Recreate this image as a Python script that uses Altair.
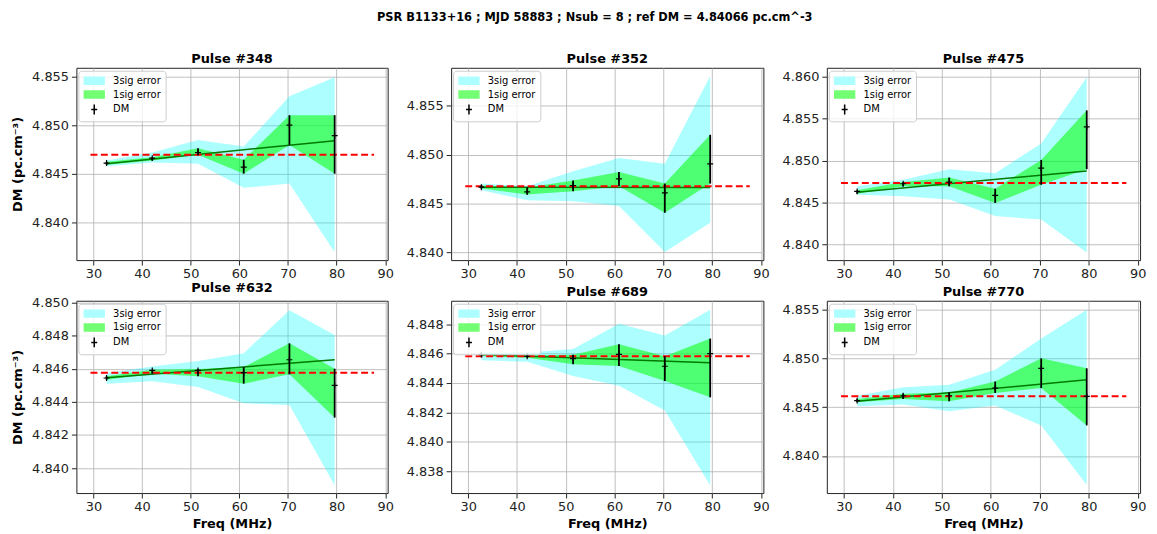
import altair as alt
import pandas as pd

# ---------------- data ----------------
FREQ = [32.7, 42.1, 51.5, 60.9, 70.3, 79.6]
PULSES = ["348", "352", "475", "632", "689", "770"]

DM = [
    [4.84609, 4.84660, 4.84718, 4.84568, 4.85000, 4.84891],
    [4.84667, 4.84619, 4.84684, 4.84752, 4.84609, 4.84905],
    [4.84632, 4.84723, 4.84743, 4.84585, 4.84909, 4.85403],
    [4.84544, 4.84590, 4.84590, 4.84576, 4.84654, 4.84500],
    [4.84593, 4.84582, 4.84566, 4.84595, 4.84514, 4.84600],
    [4.84567, 4.84617, 4.84617, 4.84695, 4.84898, 4.84611],
]
SIG1_HI = [
    [4.84622, 4.84670, 4.84762, 4.84643, 4.85102, 4.85102],
    [4.84684, 4.84665, 4.84735, 4.84823, 4.84704, 4.85204],
    [4.84644, 4.84743, 4.84798, 4.84664, 4.85008, 4.85601],
    [4.84554, 4.84594, 4.84598, 4.84610, 4.84753, 4.84600],
    [4.84600, 4.84589, 4.84593, 4.84663, 4.84582, 4.84702],
    [4.84584, 4.84638, 4.84651, 4.84763, 4.85000, 4.84898],
]
SIG1_LO = [
    [4.84592, 4.84636, 4.84694, 4.84500, 4.84796, 4.84500],
    [4.84653, 4.84592, 4.84626, 4.84677, 4.84405, 4.84704],
    [4.84605, 4.84692, 4.84692, 4.84494, 4.84711, 4.84897],
    [4.84534, 4.84570, 4.84554, 4.84510, 4.84566, 4.84305],
    [4.84584, 4.84571, 4.84528, 4.84516, 4.84413, 4.84302],
    [4.84550, 4.84584, 4.84560, 4.84645, 4.84695, 4.84313],
]
SIG3_HI = [
    [4.84636, 4.84718, 4.84847, 4.84779, 4.85296, 4.85493],
    [4.84704, 4.84677, 4.84830, 4.84966, 4.84908, 4.85806],
    [4.84692, 4.84771, 4.84897, 4.84850, 4.85206, 4.85996],
    [4.84574, 4.84614, 4.84646, 4.84694, 4.84953, 4.84803],
    [4.84607, 4.84607, 4.84632, 4.84803, 4.84724, 4.84898],
    [4.84617, 4.84705, 4.84729, 4.84882, 4.85203, 4.85498],
]
SIG3_LO = [
    [4.84575, 4.84616, 4.84602, 4.84354, 4.84398, 4.83690],
    [4.84636, 4.84534, 4.84524, 4.84473, 4.84003, 4.84303],
    [4.84593, 4.84573, 4.84534, 4.84336, 4.84296, 4.83901],
    [4.84510, 4.84524, 4.84490, 4.84391, 4.84381, 4.83897],
    [4.84555, 4.84544, 4.84447, 4.84381, 4.84212, 4.83702],
    [4.84509, 4.84526, 4.84458, 4.84516, 4.84313, 4.83703],
]
FIT_START = [4.84602, 4.84667, 4.84621, 4.84546, 4.84593, 4.84560]
FIT_END = [4.84840, 4.84663, 4.84877, 4.84654, 4.84537, 4.84780]
REF_DM = [4.84694, 4.84677, 4.84731, 4.84576, 4.84582, 4.84611]
REF_X = [29.4, 87.7]

Y_DOMAINS = [
    [4.8361, 4.8559],
    [4.8392, 4.8589],
    [4.8381, 4.8611],
    [4.8385, 4.8501],
    [4.8365, 4.8496],
    [4.8362, 4.8559],
]
Y_TICKS = [
    [4.840, 4.845, 4.850, 4.855],
    [4.840, 4.845, 4.850, 4.855],
    [4.840, 4.845, 4.850, 4.855, 4.860],
    [4.840, 4.842, 4.844, 4.846, 4.848, 4.850],
    [4.838, 4.840, 4.842, 4.844, 4.846, 4.848],
    [4.840, 4.845, 4.850, 4.855],
]
X_DOMAIN = [26.5, 90.5]
X_TICKS = [30, 40, 50, 60, 70, 80, 90]
SERIES = ["3sig error", "1sig error", "DM"]

MAIN_TITLE = "PSR B1133+16 ; MJD 58883 ; Nsub = 8 ; ref DM = 4.84066 pc.cm^-3"
Y_TITLE = "DM (pc.cm\u207b\u00b3)"
X_TITLE = "Freq (MHz)"

# ---------------- styling ----------------
FONT = "DejaVu Sans"
PANEL_W = [314, 315, 316]
PANEL_H = 194
PLUS = "M-1,0L1,0M0,-1L0,1"
RECT = "M-2,-0.7L2,-0.7L2,0.7L-2,0.7Z"
LEG_PLUS = "M0,-1L0,1M-0.6,0L0.6,0"


def panel(i):
    col = i % 3
    row = i // 3
    df = pd.DataFrame({
        "freq": FREQ,
        "dm": DM[i],
        "g_lo": SIG1_LO[i],
        "g_hi": SIG1_HI[i],
        "c_lo": SIG3_LO[i],
        "c_hi": SIG3_HI[i],
    })
    fit_df = pd.DataFrame({"freq": [FREQ[0], FREQ[-1]], "fit": [FIT_START[i], FIT_END[i]]})
    ref_df = pd.DataFrame({"x1": [REF_X[0]], "x2": [REF_X[1]], "ref": [REF_DM[i]]})
    leg_df = pd.DataFrame({"series": SERIES, "freq": [0.0] * 3,
                           "dm": [sum(Y_DOMAINS[i]) / 2] * 3})

    xscale = alt.Scale(domain=X_DOMAIN, nice=False, zero=False)
    yscale = alt.Scale(domain=Y_DOMAINS[i], nice=False, zero=False)
    xaxis_kw = dict(values=X_TICKS, tickCount=20, labelPadding=3, labelOverlap=False)
    if row == 1:
        xaxis = alt.Axis(title=X_TITLE, titlePadding=4, **xaxis_kw)
    else:
        xaxis = alt.Axis(title=None, **xaxis_kw)
    yaxis_kw = dict(values=Y_TICKS[i], tickCount=20, format=".3f", minExtent=46,
                    maxExtent=46, labelPadding=3, labelOverlap=False)
    if col == 0:
        yaxis = alt.Axis(title=Y_TITLE, titlePadding=6, **yaxis_kw)
    else:
        yaxis = alt.Axis(title=None, **yaxis_kw)

    X = alt.X("freq:Q", scale=xscale, axis=xaxis)

    cyan = alt.Chart(df).mark_area(color="#00ffff", opacity=0.32).encode(
        x=X, y=alt.Y("c_lo:Q", scale=yscale, axis=yaxis), y2="c_hi:Q")
    green = alt.Chart(df).mark_area(color="#00ff00", opacity=0.55).encode(
        x=X, y=alt.Y("g_lo:Q"), y2="g_hi:Q")
    fit = alt.Chart(fit_df).mark_line(color="#007a00", strokeWidth=1.5).encode(
        x=X, y=alt.Y("fit:Q"))
    ref = alt.Chart(ref_df).mark_rule(color="#ff0000", strokeWidth=2,
                                      strokeDash=[7, 3.5]).encode(
        x=alt.X("x1:Q", scale=xscale, axis=xaxis), x2="x2:Q", y=alt.Y("ref:Q"))
    bars = alt.Chart(df).mark_rule(color="black", strokeWidth=1.8).encode(
        x=X, y=alt.Y("g_lo:Q"), y2="g_hi:Q")
    pts = alt.Chart(df).mark_point(shape=PLUS, size=36, filled=False,
                                   color="black", strokeWidth=1.2, opacity=1).encode(
        x=X, y=alt.Y("dm:Q"))

    legend = alt.Legend(
        title=None, orient="none", legendX=2, legendY=3, padding=4,
        fillColor="rgba(255,255,255,0.8)", strokeColor="#cccccc", cornerRadius=3,
        labelFont=FONT, labelFontSize=10, labelColor="#000000",
        symbolSize=100, symbolOffset=6, labelOffset=13, rowPadding=0,
        symbolStrokeWidth=1.5, symbolOpacity=1,
    )
    leg_colors = ["#adffff", "#73ff73", "#000000"]
    leg = alt.Chart(leg_df).mark_point(filled=True, clip=True, opacity=1).encode(
        x=X, y=alt.Y("dm:Q"),
        fill=alt.Fill("series:N", scale=alt.Scale(domain=SERIES, range=leg_colors), legend=legend),
        stroke=alt.Stroke("series:N", scale=alt.Scale(domain=SERIES, range=leg_colors), legend=legend),
        shape=alt.Shape("series:N", scale=alt.Scale(domain=SERIES, range=[RECT, RECT, LEG_PLUS]), legend=legend),
    )

    return alt.layer(cyan, green, fit, ref, bars, pts, leg).properties(
        width=PANEL_W[col], height=PANEL_H,
        title=alt.TitleParams("Pulse #" + PULSES[i], anchor="middle", offset=2,
                              font=FONT, fontSize=13, fontWeight="bold", color="#000000"),
    )


panels = [panel(i) for i in range(6)]

chart = alt.concat(
    *panels, columns=3, spacing={"row": 41, "column": 64}, bounds="flush",
    title=alt.TitleParams(MAIN_TITLE, anchor="middle", font=FONT, fontSize=11.5,
                          fontWeight="bold", color="#000000", offset=29, dx=16),
).resolve_scale(
    x="independent", y="independent", fill="independent", stroke="independent", shape="independent"
).resolve_legend(
    fill="independent", stroke="independent", shape="independent"
).properties(
    padding={"left": 3, "top": 2, "right": 2, "bottom": 2}
).configure_view(
    stroke="#222222", strokeWidth=1
).configure_axis(
    domain=False, grid=True, gridColor="#b0b0b0", gridWidth=0.8,
    ticks=True, tickColor="#222222", tickSize=5,
    labelFont=FONT, labelFontSize=13, labelColor="#222222",
    titleFont=FONT, titleFontSize=13, titleFontWeight="bold", titleColor="#000000",
)

chart.save("out.html", embed_options={"renderer": "svg", "actions": False})
